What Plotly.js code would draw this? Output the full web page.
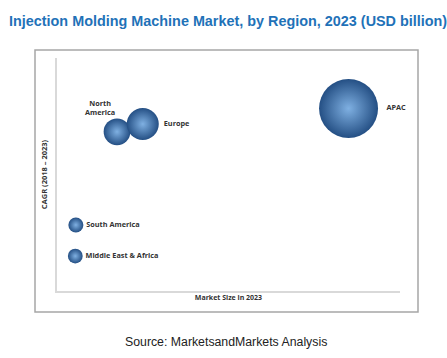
<!DOCTYPE html>
<html>
<head>
<meta charset="utf-8">
<script src="https://cdn.plot.ly/plotly-3.0.1.min.js"></script>
<style>html,body{margin:0;padding:0;background:#fff;}#chart{width:447px;height:358px;}</style>
</head>
<body>
<div id="chart"></div>
<script>
// Data (relative units; axes carry no ticks)
var regions = ["North America", "Europe", "APAC", "South America", "Middle East & Africa"];
var labels = ["", "Europe", "APAC", "South America", "Middle East & Africa"];
var marketSize2023 = [1.05, 1.5, 5.1, 0.33, 0.32];
var cagr = [6.1, 6.3, 6.7, 3.7, 2.9];
var labelPositions = ["top left", "middle right", "middle right", "middle right", "middle right"];

var maxSize = Math.max.apply(null, marketSize2023);
var labelFont = {family: "Open Sans, Liberation Sans, sans-serif", size: 7.3, color: "#333333", weight: "bold"};

var trace = {
  type: "scatter",
  mode: "markers+text",
  x: marketSize2023,
  y: cagr,
  text: labels,
  textposition: labelPositions,
  textfont: labelFont,
  hovertext: regions,
  marker: {
    size: marketSize2023,
    sizemode: "area",
    sizeref: 2 * maxSize / (59 * 59),
    color: "#244f84",
    gradient: {type: "radial", color: "#7fb0e2"},
    opacity: 1,
    line: {width: 0}
  },
  cliponaxis: false,
  showlegend: false
};

var layout = {
  width: 447,
  height: 358,
  margin: {l: 57, r: 47, t: 58, b: 67},
  paper_bgcolor: "#ffffff",
  plot_bgcolor: "#ffffff",
  title: {
    text: "<b>Injection Molding Machine Market, by Region, 2023 (USD billion)</b>",
    font: {family: "Liberation Sans, Arial, sans-serif", size: 14.4, color: "#1f72b8"},
    xref: "container", x: 9 / 447, xanchor: "left",
    yref: "container", y: 1 - 21 / 358, yanchor: "middle"
  },
  xaxis: {
    range: [0, 6],
    showgrid: false, zeroline: false, showticklabels: false, ticks: "",
    showline: true, linecolor: "#d9d9d9", linewidth: 2,
    title: {text: "<b>Market Size in 2023</b>", standoff: 3,
      font: {family: "Open Sans, Liberation Sans, sans-serif", size: 7, color: "#333333"}},
    automargin: false, fixedrange: true
  },
  yaxis: {
    range: [2, 8],
    showgrid: false, zeroline: false, showticklabels: false, ticks: "",
    showline: true, linecolor: "#d9d9d9", linewidth: 2,
    title: {text: "<b>CAGR (2018 – 2023)</b>", standoff: 6,
      font: {family: "Open Sans, Liberation Sans, sans-serif", size: 7.5, color: "#333333"}},
    automargin: false, fixedrange: true
  },
  shapes: [{
    type: "rect", xref: "paper", yref: "paper",
    x0: (35 - 57) / 343, x1: (418 - 57) / 343,
    y0: (291 - 312) / 233, y1: (291 - 50) / 233,
    line: {color: "#a6a6a6", width: 1.5},
    fillcolor: "rgba(0,0,0,0)",
    layer: "below"
  }],
  annotations: [{
    text: "<b>North<br>America</b>",
    xref: "x", yref: "y",
    x: marketSize2023[0], y: cagr[0],
    xanchor: "right", yanchor: "bottom", yshift: 13, align: "center",
    showarrow: false,
    font: {family: labelFont.family, size: labelFont.size, color: labelFont.color}
  }, {
    text: "Source: MarketsandMarkets Analysis",
    xref: "paper", yref: "paper",
    x: (226 - 57) / 343, y: (291 - 342) / 233,
    xanchor: "center", yanchor: "middle",
    showarrow: false,
    font: {family: "Liberation Sans, Arial, sans-serif", size: 12.3, color: "#222222"}
  }]
};

Plotly.newPlot("chart", [trace], layout, {displayModeBar: false, staticPlot: true});
</script>
</body>
</html>
